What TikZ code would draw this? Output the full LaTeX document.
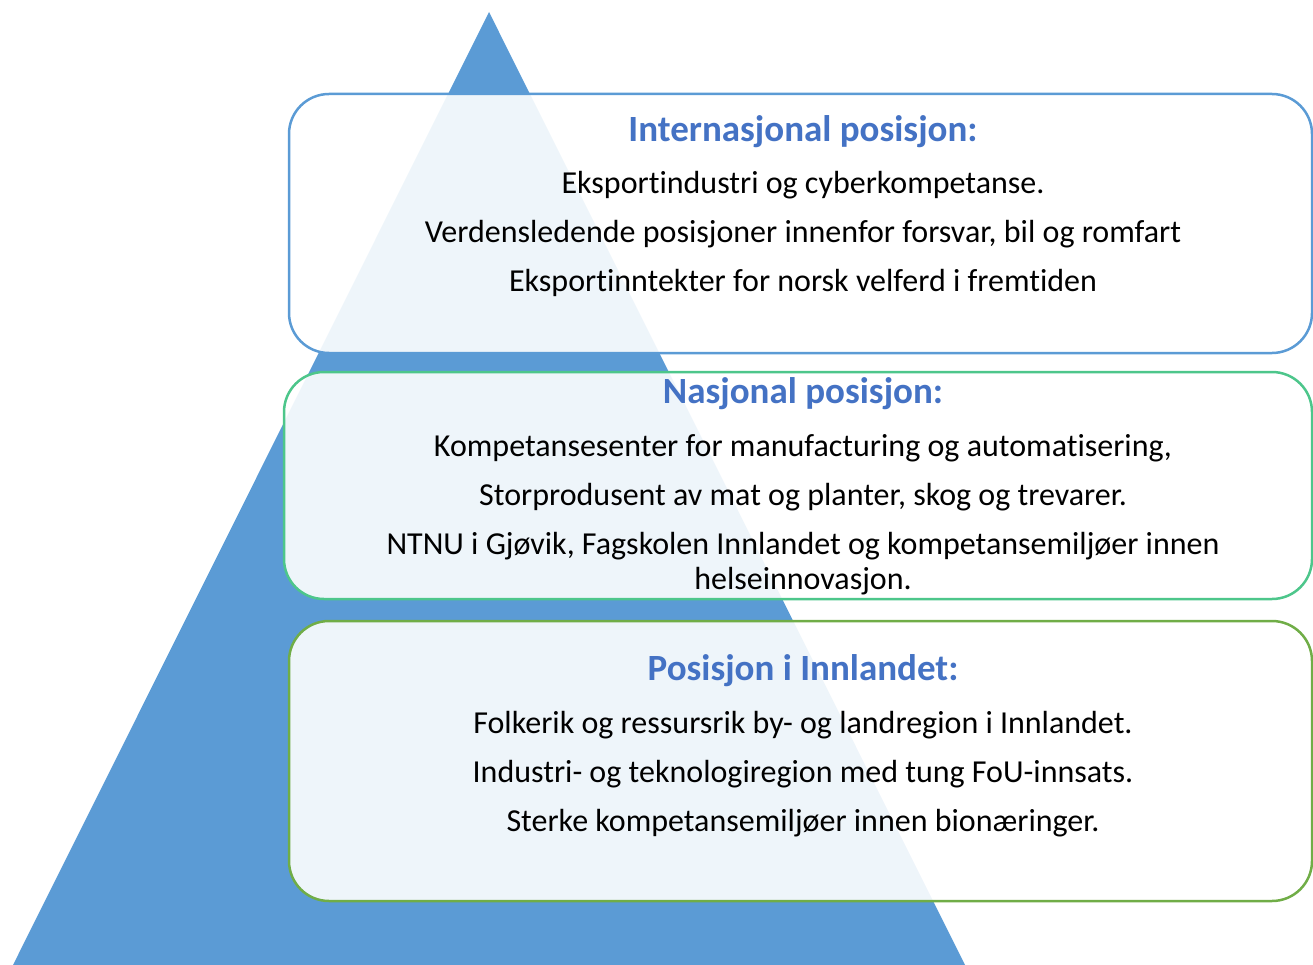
\documentclass[tikz,border=0pt]{standalone}
\usepackage{fontspec}
\setmainfont{Carlito}[Ligatures=NoCommon]
\usepackage{tikz}
\usepackage{color}

\definecolor{pyrblue}{HTML}{5B9BD5}
\definecolor{titleblue}{HTML}{4472C4}
\definecolor{midgreen}{HTML}{4DC68B}
\definecolor{lowgreen}{HTML}{70AD47}

\tikzset{
  posbox/.style={draw=#1, line width=2.5pt, rounded corners=40pt, fill=white, fill opacity=0.9, text opacity=1},
  title/.style={font=\fontsize{37}{37}\selectfont\bfseries, text=titleblue},
  line/.style={font=\fontsize{32}{32}\selectfont}
}

\begin{document}
\begin{tikzpicture}[x=1pt,y=-1pt]
\useasboundingbox (0,0) rectangle (1313,965);
\fill[pyrblue] (489,12)--(13,965)--(965,965)--cycle;
% boxes
\draw[posbox=pyrblue] (289,94) rectangle (1312,353);
\draw[posbox=midgreen] (284,372) rectangle (1312,599);
\draw[posbox=lowgreen] (289,621) rectangle (1312,901);
% internasjonal
\node[title] (intl) at (803,132) {Internasjonal posisjon:};
\node[line] (intl1) at (803,185) {Eksportindustri og cyberkompetanse.};
\node[line] (intl2) at (803,234) {Verdensledende posisjoner innenfor forsvar, bil og romfart};
\node[line] (intl3) at (803,283) {Eksportinntekter for norsk velferd i fremtiden};
% nasjonal
\node[title] (nas) at (803,394) {Nasjonal posisjon:};
\node[line] (nas1) at (803,448) {Kompetansesenter for manufacturing og automatisering,};
\node[line] (nas2) at (803,497) {Storprodusent av mat og planter, skog og trevarer.};
\node[line] (nas3) at (803,546) {NTNU i Gjøvik, Fagskolen Innlandet og kompetansemiljøer innen};
\node[line] (nas4) at (803,581) {helseinnovasjon.};
% innlandet
\node[title] (inn) at (803,671) {Posisjon i Innlandet:};
\node[line] (inn1) at (803,725) {Folkerik og ressursrik by- og landregion i Innlandet.};
\node[line] (inn2) at (803,774) {Industri- og teknologiregion med tung FoU-innsats.};
\node[line] (inn3) at (803,823) {Sterke kompetansemiljøer innen bionæringer.};
\end{tikzpicture}
\end{document}
